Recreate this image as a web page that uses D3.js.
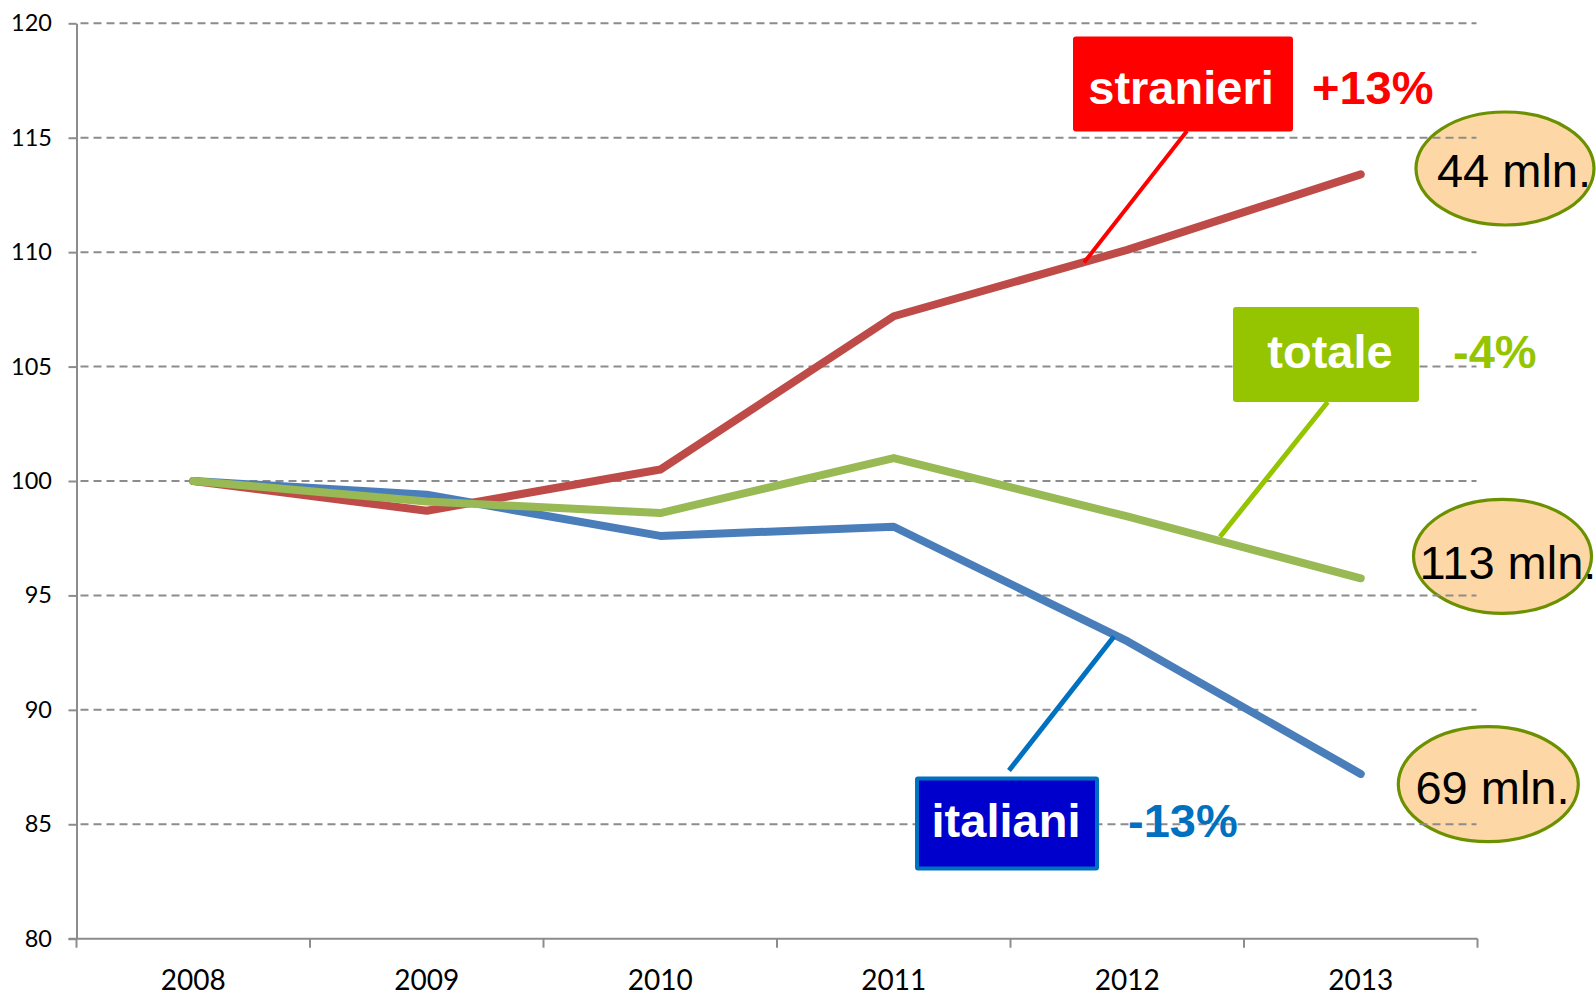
<!DOCTYPE html>
<html>
<head>
<meta charset="utf-8">
<script src="https://cdn.jsdelivr.net/npm/d3@7/dist/d3.min.js"></script>
<style>
  html, body { margin: 0; padding: 0; background: #ffffff; }
  svg { display: block; }
</style>
</head>
<body>
<svg id="chart" width="1596" height="993"></svg>
<script>
// ---- data ----
const years = ["2008", "2009", "2010", "2011", "2012", "2013"];
const italiani  = [100, 99.4, 97.6, 98.0, 93.0, 87.2];
const stranieri = [100, 98.7, 100.5, 107.2, 110.1, 113.4];
const totale    = [100, 99.1, 98.6, 101.0, 98.45, 95.75];
const yTicks = [80, 85, 90, 95, 100, 105, 110, 115, 120];

const seriesNames  = ["italiani", "stranieri", "totale"];
const seriesValues = [italiani, stranieri, totale];
const seriesColors = ["#4A7EBB", "#BE4B48", "#98B954"];

const labelNames   = ["stranieri", "totale", "italiani"];
const labelChanges = ["+13%", "-4%", "-13%"];
const labelTotals  = ["44 mln.", "113 mln.", "69 mln."];

// ---- layout ----
const plotLeft = 76.5, plotRight = 1477.5, plotTop = 23.3, plotBottom = 938.7;
const svg = d3.select("#chart");

const x = d3.scaleBand().domain(years).range([plotLeft, plotRight]).padding(0);
const y = d3.scaleLinear().domain([80, 120]).range([plotBottom, plotTop]);
const cx = d => x(d) + x.bandwidth() / 2;

const axisColor = "#8C8C8C";

// ---- ellipse callouts (drawn below gridlines) ----
const ellipses = [
  { cx: 1505, cy: 168.5, rx: 89, ry: 56.5, tx: 1514, ty: 187, text: labelTotals[0] },
  { cx: 1502.5, cy: 556.3, rx: 89, ry: 57, tx: 1508, ty: 578.5, text: labelTotals[1] },
  { cx: 1488.3, cy: 784.2, rx: 90, ry: 57.5, tx: 1492.5, ty: 804, text: labelTotals[2] }
];
const eg = svg.append("g");
eg.selectAll("ellipse").data(ellipses).join("ellipse")
  .attr("cx", d => d.cx).attr("cy", d => d.cy)
  .attr("rx", d => d.rx).attr("ry", d => d.ry)
  .attr("fill", "#FDD8A6").attr("stroke", "#6B9100").attr("stroke-width", 3.2);

// ---- gridlines ----
svg.append("g").selectAll("line").data(yTicks.filter(t => t !== 80)).join("line")
  .attr("x1", plotLeft + 4).attr("x2", plotRight - 1)
  .attr("y1", d => y(d)).attr("y2", d => y(d))
  .attr("stroke", axisColor).attr("stroke-width", 2)
  .attr("stroke-dasharray", "8,5");

// ---- y axis ----
const yAxis = svg.append("g")
  .attr("transform", `translate(${plotLeft},0)`)
  .call(d3.axisLeft(y).tickValues(yTicks).tickSize(8).tickSizeOuter(0).tickPadding(16.5));
yAxis.select(".domain").attr("stroke", axisColor).attr("stroke-width", 2);
yAxis.selectAll(".tick line").attr("stroke", axisColor).attr("stroke-width", 2);
yAxis.selectAll(".tick text")
  .attr("font-family", "Lato, 'Open Sans', sans-serif")
  .attr("font-size", 23.5).attr("fill", "#000");

// ---- x axis ----
const xAxis = svg.append("g")
  .attr("transform", `translate(0,${plotBottom})`)
  .call(d3.axisBottom(x).tickSize(0).tickSizeOuter(0).tickPadding(31.5));
xAxis.select(".domain").remove();
xAxis.selectAll(".tick text")
  .attr("font-family", "Lato, 'Open Sans', sans-serif")
  .attr("font-size", 28).attr("fill", "#000");
const bounds = years.map(d => x(d)).concat([x.range()[1]]);
svg.append("line")
  .attr("x1", plotLeft - 8).attr("x2", plotRight).attr("y1", plotBottom).attr("y2", plotBottom)
  .attr("stroke", axisColor).attr("stroke-width", 2);
svg.append("g").selectAll("line").data(bounds).join("line")
  .attr("x1", d => d).attr("x2", d => d)
  .attr("y1", plotBottom).attr("y2", plotBottom + 9)
  .attr("stroke", axisColor).attr("stroke-width", 2);

// ---- series lines ----
const line = d3.line().x((d, i) => cx(years[i])).y(d => y(d));
svg.append("g").selectAll("path").data(seriesValues).join("path")
  .attr("d", d => line(d))
  .attr("fill", "none")
  .attr("stroke", (d, i) => seriesColors[i])
  .attr("stroke-width", 8)
  .attr("stroke-linecap", "round")
  .attr("stroke-linejoin", "round");

// ---- label boxes with pointers ----
const font = "'Liberation Sans', Arial, sans-serif";
const boxes = [
  { x: 1073, y: 36.6, w: 220, h: 95, fill: "#FF0000", stroke: null, rx: 3,
    text: labelNames[0], tx: 1181, ty: 103.5,
    chg: labelChanges[0], cxp: 1312, chgColor: "#FF0000",
    p: [1187, 131, 1084, 262.6], pColor: "#FF0000", pw: 4 },
  { x: 1233, y: 307, w: 186, h: 95, fill: "#95C500", stroke: null, rx: 3,
    text: labelNames[1], tx: 1330, ty: 367.7,
    chg: labelChanges[1], cxp: 1453, chgColor: "#95C500",
    p: [1327.7, 402, 1220, 536.7], pColor: "#95C500", pw: 5 },
  { x: 917, y: 778.5, w: 180, h: 90, fill: "#0000CC", stroke: "#0070C0", rx: 1,
    text: labelNames[2], tx: 1006, ty: 836.7,
    chg: labelChanges[2], cxp: 1128, chgColor: "#0070C0",
    p: [1009, 770.5, 1114, 636.5], pColor: "#0070C0", pw: 5 }
];
const bg = svg.append("g");
bg.selectAll("line").data(boxes).join("line")
  .attr("x1", d => d.p[0]).attr("y1", d => d.p[1])
  .attr("x2", d => d.p[2]).attr("y2", d => d.p[3])
  .attr("stroke", d => d.pColor).attr("stroke-width", d => d.pw);
bg.selectAll("rect").data(boxes).join("rect")
  .attr("x", d => d.x).attr("y", d => d.y)
  .attr("width", d => d.w).attr("height", d => d.h)
  .attr("rx", d => d.rx)
  .attr("fill", d => d.fill)
  .attr("stroke", d => d.stroke || "none")
  .attr("stroke-width", d => d.stroke ? 4 : 0);
bg.selectAll("text.name").data(boxes).join("text").attr("class", "name")
  .attr("x", d => d.tx).attr("y", d => d.ty)
  .attr("text-anchor", "middle")
  .attr("font-family", font).attr("font-weight", "bold").attr("font-size", 47)
  .attr("fill", "#FFFFFF")
  .text(d => d.text);
bg.selectAll("text.chg").data(boxes).join("text").attr("class", "chg")
  .attr("x", d => d.cxp).attr("y", d => d.ty)
  .attr("font-family", font).attr("font-weight", "bold").attr("font-size", 47)
  .attr("fill", d => d.chgColor)
  .text(d => d.chg);

// ---- ellipse texts ----
svg.append("g").selectAll("text").data(ellipses).join("text")
  .attr("x", d => d.tx).attr("y", d => d.ty)
  .attr("text-anchor", "middle")
  .attr("font-family", font).attr("font-size", 47).attr("fill", "#000")
  .text(d => d.text);
</script>
</body>
</html>
